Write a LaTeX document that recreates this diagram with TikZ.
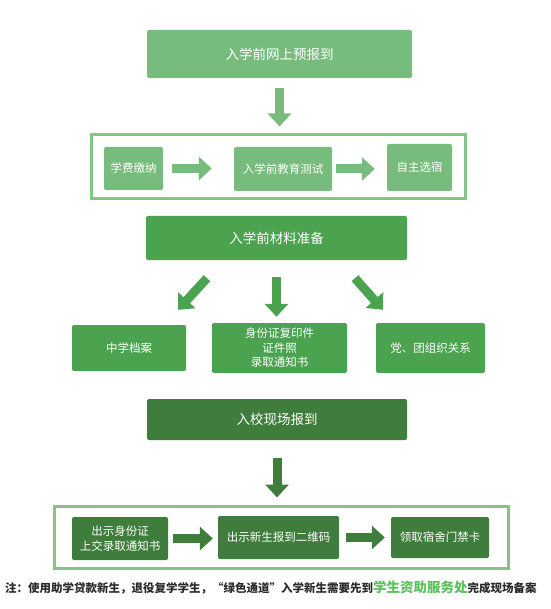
\documentclass[tikz,border=0pt]{standalone}
\usepackage{fontspec}
\newfontfamily\cjk{Noto Sans CJK SC}
\usetikzlibrary{arrows.meta,calc}
\definecolor{lightgreen}{HTML}{77BB7D}
\definecolor{midgreen}{HTML}{4BA34F}
\definecolor{darkgreen}{HTML}{3E7D3B}
\definecolor{frameone}{HTML}{84C486}
\definecolor{frametwo}{HTML}{8DBF88}
\definecolor{hlgreen}{HTML}{5CC05C}
\definecolor{notegray}{HTML}{2B2B2B}
\tikzset{>={Triangle[length=13pt,width=23pt]}}
\tikzset{
  box/.style={rectangle, rounded corners=2pt, text=white, align=center, inner sep=0pt,
    font=\cjk\fontsize{11.5}{14.5}\selectfont},
  bigbox/.style={box, font=\cjk\fontsize{13.5}{16}\selectfont},
  frame/.style={rectangle, line width=3pt, inner sep=0pt},
  fatarrow/.style={->, line width=9pt}
}

\begin{document}
\begin{tikzpicture}[x=1pt,y=-1pt]
\useasboundingbox (0,0) rectangle (550,609);
% first stage: online
\node[bigbox, fill=lightgreen, minimum width=265pt, minimum height=48pt] (online) at (279.5,54) {入学前网上预报到};
\node[frame, draw=frameone, minimum width=374pt, minimum height=64pt] (stepone) at (278,167) {};
\node[box, fill=lightgreen, minimum width=59pt, minimum height=43pt] (fee) at (133.5,168.5) {学费缴纳};
\node[box, fill=lightgreen, minimum width=98pt, minimum height=44pt] (test) at (283,169) {入学前教育测试};
\node[box, fill=lightgreen, minimum width=65pt, minimum height=47pt] (dorm) at (419.5,167.5) {自主选宿};
\draw[fatarrow, lightgreen, shorten <=10pt, shorten >=7pt] (online.south) -- (online.south |- stepone.north);
\draw[fatarrow, lightgreen, shorten <=9pt, shorten >=22pt] (fee.east) -- (fee.east -| test.west);
\draw[fatarrow, lightgreen, shorten <=4pt, shorten >=12pt] (test.east) -- (test.east -| dorm.west);

% second stage: materials
\node[bigbox, fill=midgreen, minimum width=261pt, minimum height=44pt] (mat) at (276.5,238) {入学前材料准备};
\node[box, fill=midgreen, minimum width=114pt, minimum height=46pt] (dang) at (129,348) {中学档案};
\node[box, fill=midgreen, minimum width=135pt, minimum height=50pt] (copies) at (279.5,348) {身份证复印件\\证件照\\录取通知书};
\node[box, fill=midgreen, minimum width=109pt, minimum height=50pt] (party) at (430.5,348) {党、团组织关系};
\draw[fatarrow, midgreen] ($(mat.south)+(-69.5,18)$) -- ($(dang.north)+(49,-15)$);
\draw[fatarrow, midgreen, shorten <=17pt, shorten >=6pt] (mat.south) -- (mat.south |- copies.north);
\draw[fatarrow, midgreen] ($(mat.south)+(78.5,18)$) -- ($(party.north)+(-47.5,-13)$);

% third stage: on site
\node[bigbox, fill=darkgreen, minimum width=260pt, minimum height=41pt] (site) at (277,419.5) {入校现场报到};
\node[frame, draw=frametwo, minimum width=454pt, minimum height=62pt] (stepthree) at (281,537) {};
\node[box, fill=darkgreen, minimum width=96pt, minimum height=43pt] (show) at (120,538.5) {出示身份证\\上交录取通知书};
\node[box, fill=darkgreen, minimum width=121pt, minimum height=43pt] (qr) at (278.5,537.5) {出示新生报到二维码};
\node[box, fill=darkgreen, minimum width=98pt, minimum height=41pt] (card) at (440,537.5) {领取宿舍门禁卡};
\draw[fatarrow, darkgreen, shorten <=18pt, shorten >=7pt] (site.south) -- (site.south |- stepthree.north);
\draw[fatarrow, darkgreen, shorten <=5pt, shorten >=5pt] (show.east) -- (show.east -| qr.west);
\draw[fatarrow, darkgreen, shorten <=7pt, shorten >=6pt] (qr.east) -- (qr.east -| card.west);

\node[anchor=west, inner sep=0pt, text=notegray, font=\cjk\bfseries\fontsize{11.5}{14}\selectfont] (note) at (5,588)
  {注：使用助学贷款新生，退役复学学生，“绿色通道”入学新生需要先到\textcolor{hlgreen}{\fontsize{13.5}{16}\selectfont 学生资助服务处}完成现场备案};
\end{tikzpicture}
\end{document}
